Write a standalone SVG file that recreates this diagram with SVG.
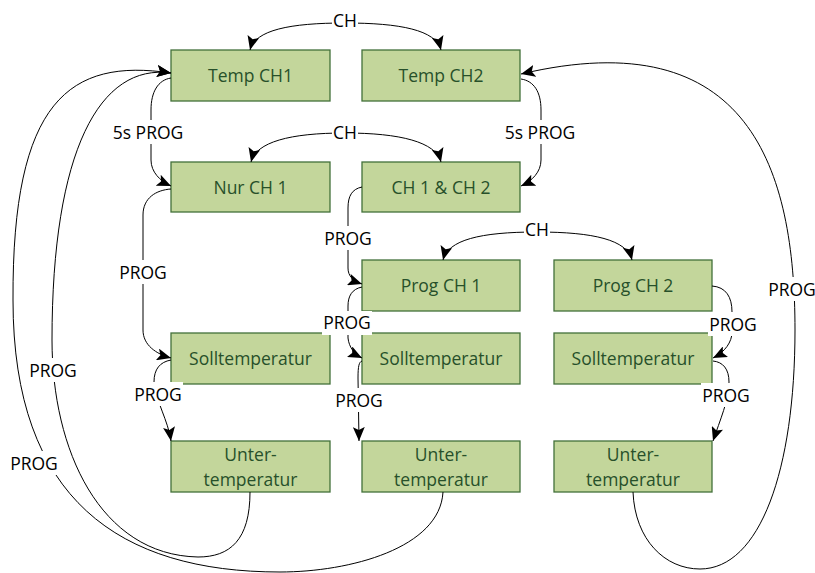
<svg xmlns="http://www.w3.org/2000/svg" width="815" height="573" viewBox="0 0 815 573">
<defs>
<style>
.box{fill:#c3d69b;stroke:#42703a;stroke-width:1.3}
.bt{font-family:"Open Sans","Liberation Sans",sans-serif;font-size:17.5px;fill:#27502a;text-anchor:middle}
.ln{fill:none;stroke:#000;stroke-width:1}
.bg{fill:#fff}
.lb{font-family:"Open Sans","Liberation Sans",sans-serif;font-size:17.5px;fill:#000;text-anchor:middle}
</style>
<marker id="arr" viewBox="0 0 14 12" refX="14" refY="6" markerWidth="14" markerHeight="12" markerUnits="userSpaceOnUse" orient="auto-start-reverse">
<path d="M0,0 L14,6 L0,12 L3,6 z" fill="#000"/>
</marker>
</defs>
<rect width="815" height="573" fill="#fff"/>
<g id="nodes">
<g id="temp-ch1"><rect class="box" x="171" y="50" width="159" height="51"/><text class="bt" x="250.5" y="82">Temp CH1</text></g>
<g id="temp-ch2"><rect class="box" x="362" y="50" width="158" height="51"/><text class="bt" x="441" y="82">Temp CH2</text></g>
<g id="nur-ch1"><rect class="box" x="171" y="162" width="159" height="50"/><text class="bt" x="250.5" y="193.5">Nur CH 1</text></g>
<g id="ch1-ch2"><rect class="box" x="362" y="162" width="158" height="50"/><text class="bt" x="441" y="193.5">CH 1 &amp; CH 2</text></g>
<g id="prog-ch1"><rect class="box" x="362" y="260" width="158" height="51"/><text class="bt" x="441" y="292">Prog CH 1</text></g>
<g id="prog-ch2"><rect class="box" x="554" y="260" width="158" height="51"/><text class="bt" x="633" y="292">Prog CH 2</text></g>
<g id="soll-1"><rect class="box" x="171" y="333" width="159" height="51"/><text class="bt" x="250.5" y="365">Solltemperatur</text></g>
<g id="soll-2"><rect class="box" x="362" y="333" width="158" height="51"/><text class="bt" x="441" y="365">Solltemperatur</text></g>
<g id="soll-3"><rect class="box" x="554" y="333" width="158" height="51"/><text class="bt" x="633" y="365">Solltemperatur</text></g>
<g id="unter-1"><rect class="box" x="171" y="441" width="159" height="51"/><text class="bt" x="250.5" y="461">Unter-</text><text class="bt" x="250.5" y="485.5">temperatur</text></g>
<g id="unter-2"><rect class="box" x="362" y="441" width="158" height="51"/><text class="bt" x="441" y="461">Unter-</text><text class="bt" x="441" y="485.5">temperatur</text></g>
<g id="unter-3"><rect class="box" x="554" y="441" width="158" height="51"/><text class="bt" x="633" y="461">Unter-</text><text class="bt" x="633" y="485.5">temperatur</text></g>
</g>
<g id="connectors">
<path class="ln" d="M250,50 C255,30 290,23 345,23 C400,23 436,30 441,50" marker-start="url(#arr)" marker-end="url(#arr)"/>
<path class="ln" d="M251,162 C256,142 290,133 345,133 C400,133 436,142 441,162" marker-start="url(#arr)" marker-end="url(#arr)"/>
<path class="ln" d="M443,260 C448,240 480,232 537,232 C594,232 627,240 632,260" marker-start="url(#arr)" marker-end="url(#arr)"/>
<path class="ln" d="M171,78 C158,80 151,92 151,110 L151,160 C151,172 160,181 171,186" marker-end="url(#arr)"/>
<path class="ln" d="M521,79 C534,81 541,92 541,110 L541,160 C541,172 532,181 521,186" marker-end="url(#arr)"/>
<path class="ln" d="M171,189 C156,190 143,198 143,215 L143,330 C143,345 156,354 171,358" marker-end="url(#arr)"/>
<path class="ln" d="M171,360 C160,362 154,369 154,382 C156,402 168,420 171,441" marker-end="url(#arr)"/>
<path class="ln" d="M362,187 C352,189 348,196 348,208 L348,268 C348,276 353,281 362,284" marker-end="url(#arr)"/>
<path class="ln" d="M362,287 C352,289 348,296 348,306 L348,338 C349,347 354,354 362,358" marker-end="url(#arr)"/>
<path class="ln" d="M362,361 C359,362 358,366 358,378 L359,441" marker-end="url(#arr)"/>
<path class="ln" d="M712,286 C726,287 732,297 732,312 L732,332 C732,342 725,352 713,358" marker-end="url(#arr)"/>
<path class="ln" d="M713,361 C723,362 729,369 729,382 C729,400 720,420 713,441" marker-end="url(#arr)"/>
<path class="ln" d="M250,492 C250,540 230,557 198,557 C100,555 52,450 52,340 C52,150 100,63 171,73" marker-end="url(#arr)"/>
<path class="ln" d="M443,492 C440,548 350,572 280,572 C120,572 13,500 13,300 C12,100 70,58 171,73" marker-end="url(#arr)"/>
<path class="ln" d="M633,492 C635,540 665,569 700,569 C760,569 795,470 795,330 C795,170 750,20 521,74" marker-end="url(#arr)"/>
<g id="labels">
<rect class="bg" x="332" y="9" width="26" height="24"/><text class="lb" x="345" y="26.5">CH</text>
<rect class="bg" x="332" y="120" width="26" height="24"/><text class="lb" x="345" y="138.5">CH</text>
<rect class="bg" x="524" y="218" width="26" height="24"/><text class="lb" x="537" y="236">CH</text>
<rect class="bg" x="112" y="120" width="72" height="24"/><text class="lb" x="148" y="138.5">5s PROG</text>
<rect class="bg" x="504" y="120" width="72" height="24"/><text class="lb" x="540" y="138.5">5s PROG</text>
<rect class="bg" x="118" y="260" width="50" height="24"/><text class="lb" x="143" y="278.5">PROG</text>
<rect class="bg" x="133" y="382" width="50" height="24"/><text class="lb" x="158" y="400.5">PROG</text>
<rect class="bg" x="323" y="226" width="50" height="24"/><text class="lb" x="348" y="244.5">PROG</text>
<rect class="bg" x="322" y="311" width="50" height="24"/><text class="lb" x="347" y="329">PROG</text>
<rect class="bg" x="334" y="388" width="50" height="24"/><text class="lb" x="359" y="406.5">PROG</text>
<rect class="bg" x="708" y="312" width="50" height="24"/><text class="lb" x="733" y="330.5">PROG</text>
<rect class="bg" x="701" y="383" width="50" height="24"/><text class="lb" x="726" y="401.5">PROG</text>
<rect class="bg" x="767" y="277" width="50" height="24"/><text class="lb" x="792" y="295.5">PROG</text>
<rect class="bg" x="28" y="358" width="50" height="24"/><text class="lb" x="53" y="376.5">PROG</text>
<rect class="bg" x="9" y="451" width="50" height="24"/><text class="lb" x="34" y="469.5">PROG</text>
</g>
</g>
</svg>
